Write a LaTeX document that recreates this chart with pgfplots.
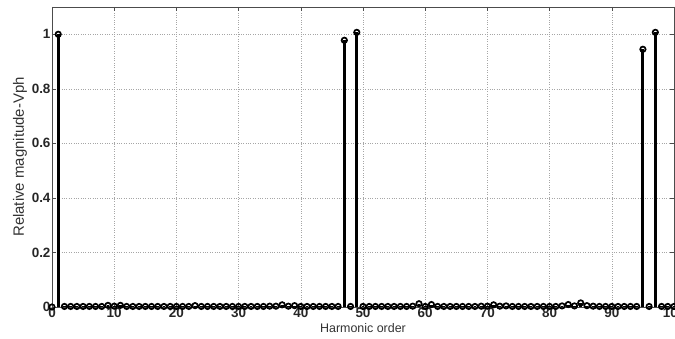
\documentclass[border=0pt]{standalone}
\usepackage{fontspec}
\setmainfont{Liberation Sans}
\usepackage{pgfplots}
\pgfplotsset{compat=1.18}
\begin{document}
\begin{tikzpicture}
\begin{axis}[
  scale only axis, width=622bp, height=300bp,
  xmin=0, xmax=100, ymin=0, ymax=1.1,
  xtick={0,10,...,100}, ytick={0,0.2,0.4,0.6,0.8,1},
  grid=major,
  major grid style={dotted, gray!70, line width=0.6bp},
  axis line style={gray!60!black, line width=0.6bp},
  tick align=inside, major tick length=4bp,
  tick style={gray!60!black, line width=0.6bp},
  /pgf/number format/assume math mode=true,
  tick label style={font=\bfseries\fontsize{13.5}{13.5}\selectfont, text=black!85},
  xticklabel style={yshift=2bp},
  yticklabel style={xshift=2bp},
  xlabel={Harmonic order},
  ylabel={Relative magnitude-Vph},
  xlabel style={at={(axis description cs:0.5,-0.07)}, anchor=center, font=\fontsize{12.5}{12.5}\selectfont, text=black!80},
  ylabel style={at={(axis description cs:-0.0514,0.5)}, anchor=center, font=\fontsize{15}{15}\selectfont, text=black!80},
  clip=false,
]
\addplot[ycomb, black, line width=2.9bp, mark=o, mark size=2.7bp, mark options={line width=1.7bp, fill=white}] coordinates {
(0,0) (1,1.0) (2,0.002) (3,0.002) (4,0.002) (5,0.002) (6,0.002) (7,0.002) (8,0.002) (9,0.006)
(10,0.003) (11,0.006) (12,0.002) (13,0.002) (14,0.002) (15,0.002) (16,0.002) (17,0.002) (18,0.002) (19,0.002)
(20,0.002) (21,0.002) (22,0.002) (23,0.005) (24,0.002) (25,0.002) (26,0.002) (27,0.002) (28,0.002) (29,0.002)
(30,0.002) (31,0.002) (32,0.002) (33,0.002) (34,0.002) (35,0.003) (36,0.003) (37,0.008) (38,0.003) (39,0.005)
(40,0.002) (41,0.002) (42,0.002) (43,0.002) (44,0.002) (45,0.002) (46,0.002) (47,0.978) (48,0.002) (49,1.007)
(50,0.002) (51,0.002) (52,0.002) (53,0.002) (54,0.002) (55,0.002) (56,0.002) (57,0.002) (58,0.003) (59,0.012)
(60,0.002) (61,0.009) (62,0.002) (63,0.002) (64,0.002) (65,0.002) (66,0.002) (67,0.002) (68,0.002) (69,0.003)
(70,0.003) (71,0.008) (72,0.003) (73,0.004) (74,0.002) (75,0.002) (76,0.002) (77,0.002) (78,0.002) (79,0.002)
(80,0.002) (81,0.002) (82,0.004) (83,0.009) (84,0.004) (85,0.015) (86,0.005) (87,0.003) (88,0.002) (89,0.002)
(90,0.002) (91,0.002) (92,0.002) (93,0.002) (94,0.002) (95,0.945) (96,0.002) (97,1.007) (98,0.002) (99,0.002)
(100,0.002)
};
\end{axis}
\pgfresetboundingbox
\path[use as bounding box] ([shift={(-52bp,-32bp)}]current axis.south west) rectangle ([shift={(1bp,7bp)}]current axis.north east);
\end{tikzpicture}
\end{document}
